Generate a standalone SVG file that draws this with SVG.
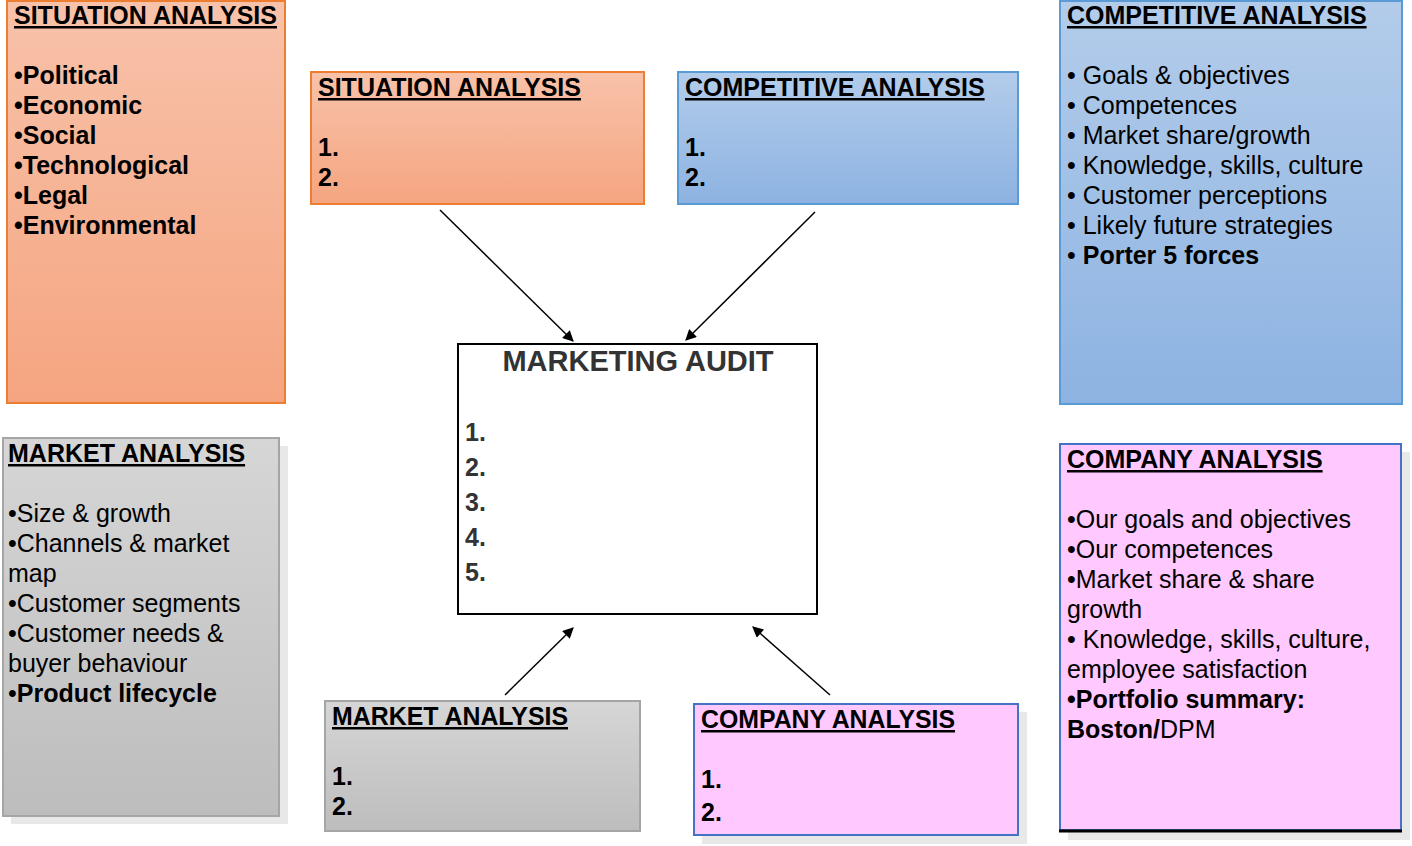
<svg xmlns="http://www.w3.org/2000/svg" width="1412" height="846" viewBox="0 0 1412 846">
<defs>
<linearGradient id="gOrange" x1="0" y1="0" x2="0" y2="1"><stop offset="0" stop-color="#f8c2aa"/><stop offset="1" stop-color="#f5a580"/></linearGradient>
<linearGradient id="gBlue" x1="0" y1="0" x2="0" y2="1"><stop offset="0" stop-color="#b3ccea"/><stop offset="1" stop-color="#8db3e2"/></linearGradient>
<linearGradient id="gGray" x1="0" y1="0" x2="0" y2="1"><stop offset="0" stop-color="#d6d6d6"/><stop offset="1" stop-color="#bdbdbd"/></linearGradient>
<marker id="arr" viewBox="0 0 10 10" refX="9" refY="5" markerWidth="12" markerHeight="11" markerUnits="userSpaceOnUse" orient="auto"><path d="M0,0 L10,5 L0,10 z" fill="#000"/></marker>
</defs>
<style>
text{font-family:"Liberation Sans",Arial,sans-serif;font-size:25px;fill:#000}
.t{font-weight:bold;text-decoration:underline}
.b{font-weight:bold}
.orange{fill:url(#gOrange);stroke:#ed7d31;stroke-width:2}
.blue{fill:url(#gBlue);stroke:#5b9bd5;stroke-width:2}
.gray{fill:url(#gGray);stroke:#a5a5a5;stroke-width:2}
.pink{fill:#ffc8ff;stroke:#4472c4;stroke-width:2}
.shadow{fill:#e8e8e8}
.audit{fill:#333}
.conn{stroke:#000;stroke-width:1.5;fill:none;marker-end:url(#arr)}
</style>

<g id="situation-detail">
<rect class="orange" x="7" y="1" width="278" height="402"/>
<text x="14" y="24" class="t">SITUATION ANALYSIS</text>
<text class="b"><tspan x="14" y="84">•Political</tspan><tspan x="14" y="114">•Economic</tspan><tspan x="14" y="144">•Social</tspan><tspan x="14" y="174">•Technological</tspan><tspan x="14" y="204">•Legal</tspan><tspan x="14" y="234">•Environmental</tspan></text>
</g>

<g id="situation">
<rect class="orange" x="311" y="72" width="333" height="132"/>
<text x="318" y="96" class="t">SITUATION ANALYSIS</text>
<text class="b"><tspan x="318" y="156">1.</tspan><tspan x="318" y="186">2.</tspan></text>
</g>

<g id="competitive">
<rect class="blue" x="678" y="72" width="340" height="132"/>
<text x="685" y="96" class="t">COMPETITIVE ANALYSIS</text>
<text class="b"><tspan x="685" y="156">1.</tspan><tspan x="685" y="186">2.</tspan></text>
</g>

<g id="competitive-detail">
<rect class="blue" x="1060" y="1" width="342" height="403"/>
<text x="1067" y="24" class="t">COMPETITIVE ANALYSIS</text>
<text><tspan x="1067" y="84">• Goals &amp; objectives</tspan><tspan x="1067" y="114">• Competences</tspan><tspan x="1067" y="144">• Market share/growth</tspan><tspan x="1067" y="174">• Knowledge, skills, culture</tspan><tspan x="1067" y="204">• Customer perceptions</tspan><tspan x="1067" y="234">• Likely future strategies</tspan><tspan x="1067" y="264">• <tspan class="b">Porter 5 forces</tspan></tspan></text>
</g>

<g id="market-detail">
<rect class="shadow" x="11" y="446" width="277" height="378"/>
<rect class="gray" x="3" y="438" width="276" height="378"/>
<text x="8" y="462" class="t">MARKET ANALYSIS</text>
<text><tspan x="8" y="522">•Size &amp; growth</tspan><tspan x="8" y="552">•Channels &amp; market</tspan><tspan x="8" y="582">map</tspan><tspan x="8" y="612">•Customer segments</tspan><tspan x="8" y="642">•Customer needs &amp;</tspan><tspan x="8" y="672">buyer behaviour</tspan><tspan x="8" y="702">•<tspan class="b">Product lifecycle</tspan></tspan></text>
</g>

<g id="company-detail">
<rect class="shadow" x="1068" y="452" width="342" height="388"/>
<rect class="pink" x="1060" y="444" width="341" height="386"/>
<line x1="1059" y1="831" x2="1402" y2="831" stroke="#000" stroke-width="3"/>
<text x="1067" y="468" class="t">COMPANY ANALYSIS</text>
<text><tspan x="1067" y="528">•Our goals and objectives</tspan><tspan x="1067" y="558">•Our competences</tspan><tspan x="1067" y="588">•Market share &amp; share</tspan><tspan x="1067" y="618">growth</tspan><tspan x="1067" y="648">• Knowledge, skills, culture,</tspan><tspan x="1067" y="678">employee satisfaction</tspan><tspan x="1067" y="708" class="b">•Portfolio summary:</tspan><tspan x="1067" y="738"><tspan class="b">Boston/</tspan>DPM</tspan></text>
</g>

<g id="marketing-audit">
<rect x="458" y="344" width="359" height="270" fill="#fff" stroke="#000" stroke-width="2"/>
<text x="638" y="371" text-anchor="middle" class="b audit" style="font-size:29px">MARKETING AUDIT</text>
<text class="b audit"><tspan x="465" y="441">1.</tspan><tspan x="465" y="476">2.</tspan><tspan x="465" y="511">3.</tspan><tspan x="465" y="546">4.</tspan><tspan x="465" y="581">5.</tspan></text>
</g>

<g id="market">
<rect class="gray" x="325" y="701" width="315" height="130"/>
<text x="332" y="725" class="t" textLength="236" lengthAdjust="spacingAndGlyphs">MARKET ANALYSIS</text>
<text class="b"><tspan x="332" y="785">1.</tspan><tspan x="332" y="815">2.</tspan></text>
</g>

<g id="company">
<rect class="shadow" x="702" y="712" width="325" height="132"/>
<rect class="pink" x="694" y="704" width="324" height="131"/>
<text x="701" y="728" class="t" textLength="254" lengthAdjust="spacingAndGlyphs">COMPANY ANALYSIS</text>
<text class="b"><tspan x="701" y="788">1.</tspan><tspan x="701" y="821">2.</tspan></text>
</g>

<g id="connectors">
<line class="conn" x1="440" y1="210" x2="573" y2="341"/>
<line class="conn" x1="815" y1="212" x2="686" y2="340"/>
<line class="conn" x1="505" y1="695" x2="573" y2="628"/>
<line class="conn" x1="830" y1="695" x2="753" y2="627"/>
</g>
</svg>
